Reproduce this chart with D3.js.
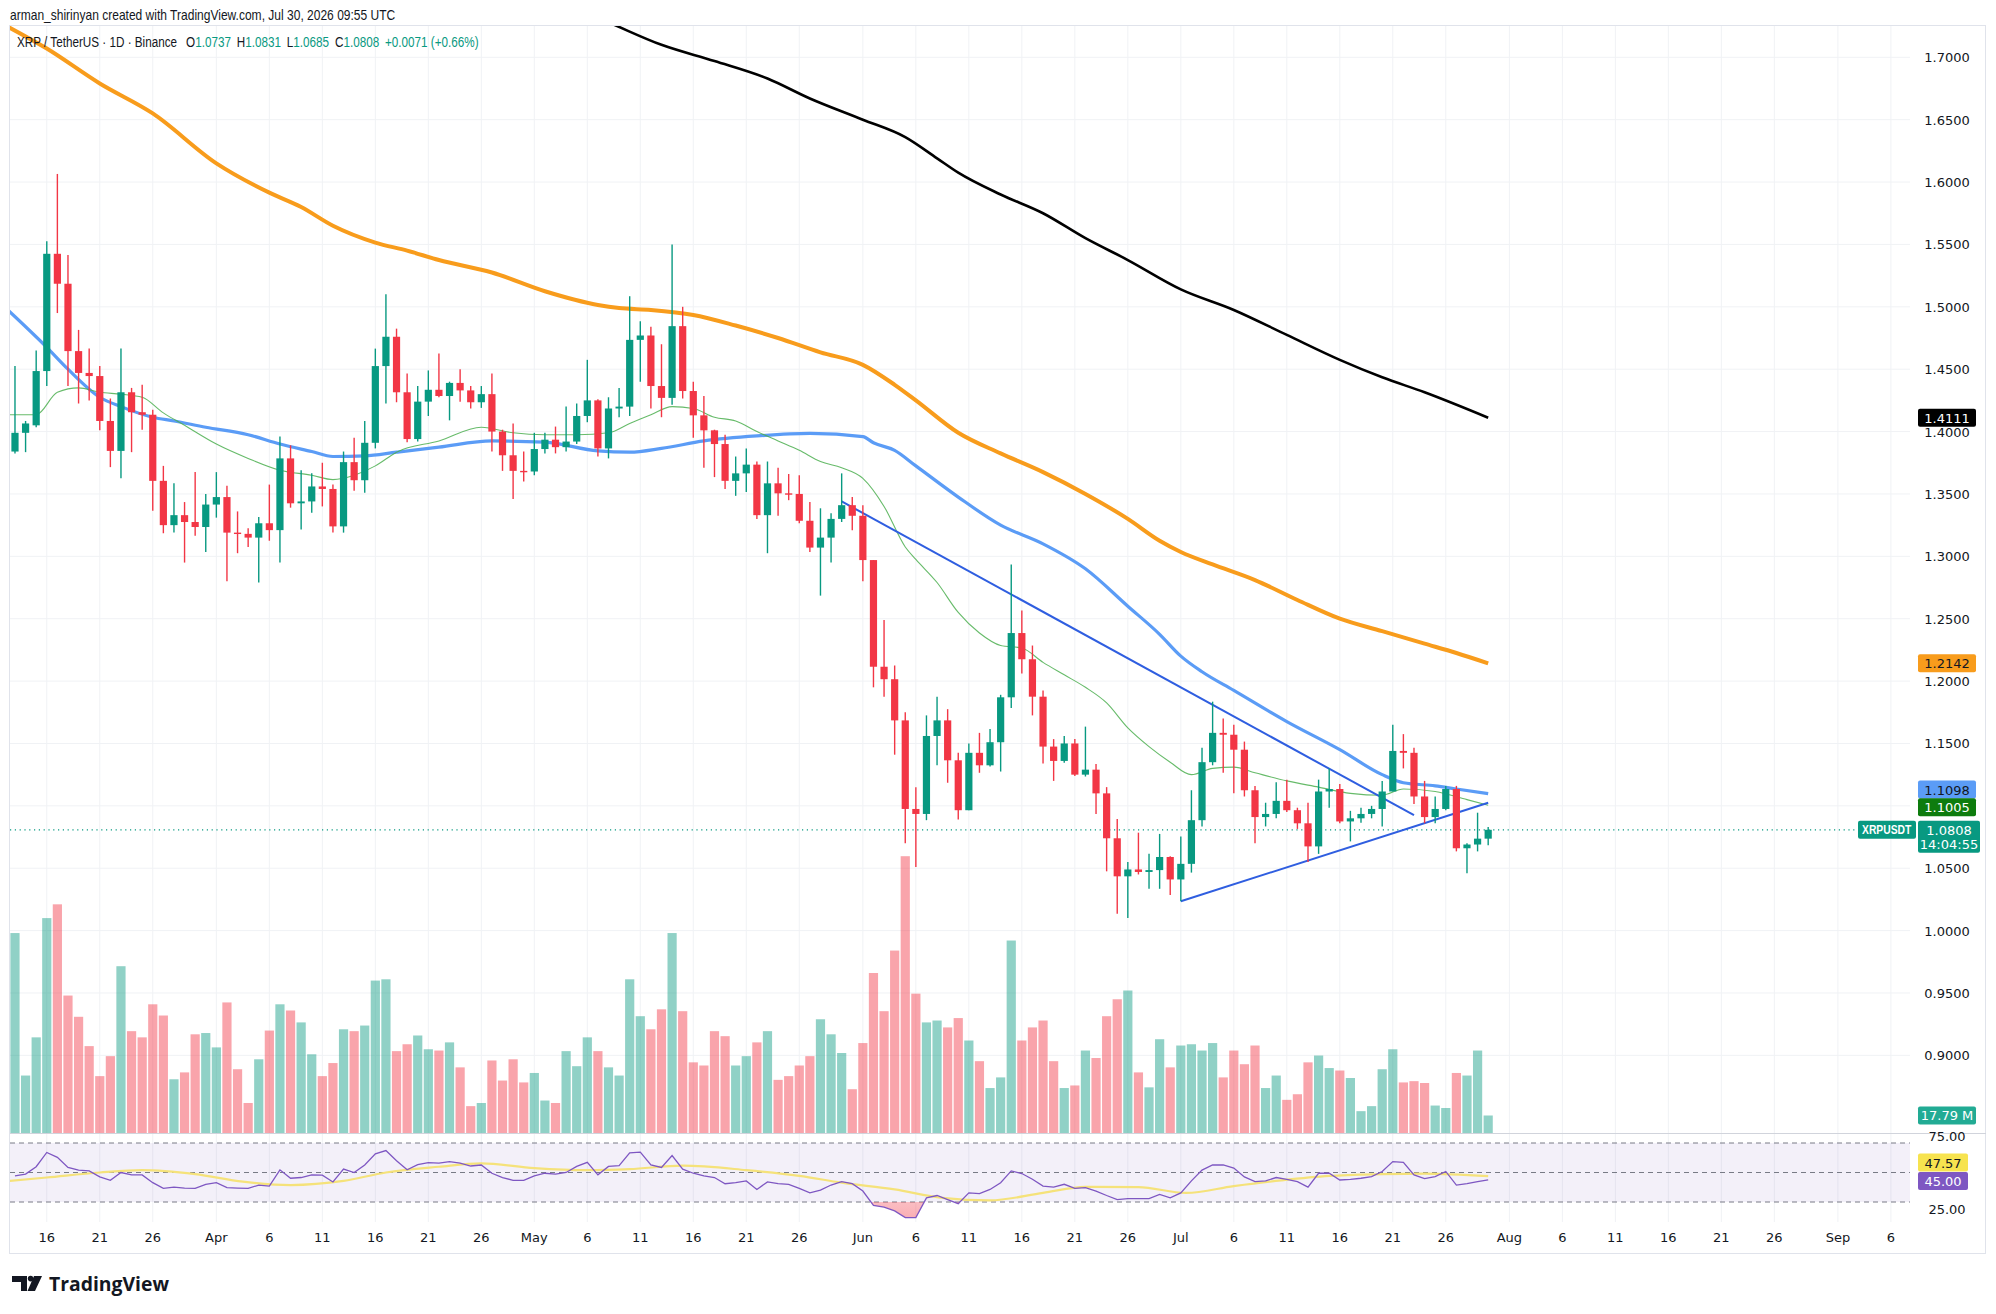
<!DOCTYPE html>
<html>
<head>
<meta charset="utf-8">
<script src="https://cdn.jsdelivr.net/npm/d3@7"></script>
<style>
  html, body { margin: 0; padding: 0; background: #fff; }
  svg { display: block; }
  .narrow { font-family: "Liberation Sans Narrow", "Liberation Sans", Arial, sans-serif; }
  .axis-text { font-family: "DejaVu Sans", Verdana, sans-serif; font-size: 13px; fill: #131722; }
</style>
</head>
<body>
<svg id="chart" width="1996" height="1314"></svg>
<script>
'use strict'

// daily candles, first one is 2026-03-13
const startDay = '2026-03-13'

const open = [
  1.384, 1.399, 1.405, 1.4485, 1.5425, 1.5185, 1.4645, 1.447, 1.4445, 1.4085,
  1.3845, 1.4315, 1.4155, 1.4135, 1.3605, 1.325, 1.333, 1.3275, 1.3235, 1.3415,
  1.3475, 1.319, 1.318, 1.315, 1.3265, 1.321, 1.3785, 1.3425, 1.344, 1.356,
  1.354, 1.324, 1.3755, 1.361, 1.391, 1.4525, 1.476, 1.4315, 1.394, 1.424,
  1.4335, 1.4285, 1.439, 1.433, 1.4235, 1.43, 1.40, 1.381, 1.3685, 1.368,
  1.386, 1.3935, 1.3875, 1.392, 1.4125, 1.425, 1.3865, 1.4185, 1.42, 1.4735,
  1.477, 1.4365, 1.427, 1.4845, 1.4325, 1.413, 1.401, 1.39, 1.3605, 1.3665,
  1.3735, 1.333, 1.3585, 1.3505, 1.35, 1.3285, 1.307, 1.315, 1.33, 1.341,
  1.3325, 1.297, 1.2115, 1.2015, 1.1685, 1.0975, 1.0935, 1.156, 1.1685, 1.1365,
  1.0965, 1.1425, 1.1325, 1.151, 1.187, 1.2385, 1.2175, 1.1875, 1.1475, 1.136,
  1.15, 1.125, 1.129, 1.11, 1.074, 1.0435, 1.049, 1.047, 1.0485, 1.059,
  1.041, 1.0535, 1.0885, 1.135, 1.1585, 1.157, 1.145, 1.1125, 1.091, 1.0935,
  1.104, 1.0965, 1.086, 1.0675, 1.1115, 1.1135, 1.0875, 1.09, 1.0935, 1.0975,
  1.1115, 1.144, 1.1425, 1.1075, 1.091, 1.0975, 1.1135, 1.066, 1.069, 1.0737
]
const high = [
  1.4525, 1.4085, 1.465, 1.5525, 1.6065, 1.5415, 1.4815, 1.4665, 1.4525, 1.4265,
  1.4665, 1.435, 1.4375, 1.4175, 1.3725, 1.3585, 1.3435, 1.3675, 1.35, 1.3675,
  1.3565, 1.336, 1.3225, 1.3315, 1.3575, 1.396, 1.389, 1.369, 1.3665, 1.375,
  1.3575, 1.384, 1.395, 1.4085, 1.4665, 1.51, 1.4825, 1.4465, 1.4365, 1.449,
  1.4625, 1.44, 1.45, 1.4365, 1.4365, 1.4465, 1.4015, 1.4065, 1.384, 1.399,
  1.399, 1.404, 1.42, 1.4225, 1.4575, 1.426, 1.4275, 1.435, 1.5085, 1.4885,
  1.484, 1.47, 1.55, 1.50, 1.44, 1.4285, 1.4015, 1.3975, 1.38, 1.3865,
  1.376, 1.376, 1.371, 1.366, 1.365, 1.3435, 1.3385, 1.3345, 1.3665, 1.3475,
  1.341, 1.297, 1.249, 1.2125, 1.175, 1.115, 1.1725, 1.1875, 1.1775, 1.1425,
  1.15, 1.1585, 1.1615, 1.189, 1.2935, 1.2565, 1.2285, 1.1925, 1.1535, 1.156,
  1.1535, 1.1635, 1.1335, 1.115, 1.0895, 1.055, 1.0785, 1.0615, 1.0775, 1.0595,
  1.0755, 1.1125, 1.1465, 1.1835, 1.17, 1.165, 1.1515, 1.116, 1.1025, 1.119,
  1.121, 1.0985, 1.1025, 1.121, 1.13, 1.1175, 1.096, 1.0985, 1.10, 1.12,
  1.165, 1.1575, 1.1465, 1.12, 1.1075, 1.116, 1.116, 1.07, 1.0945, 1.0831
]
const low = [
  1.3825, 1.3835, 1.4035, 1.4365, 1.495, 1.4365, 1.4225, 1.425, 1.401, 1.3715,
  1.3625, 1.3835, 1.4015, 1.3365, 1.3185, 1.319, 1.295, 1.3165, 1.3035, 1.331,
  1.28, 1.3025, 1.3075, 1.279, 1.3125, 1.295, 1.339, 1.3215, 1.335, 1.34,
  1.319, 1.319, 1.3525, 1.351, 1.3865, 1.4225, 1.4235, 1.3915, 1.392, 1.4125,
  1.4275, 1.409, 1.424, 1.4185, 1.419, 1.384, 1.3685, 1.346, 1.36, 1.365,
  1.3825, 1.3825, 1.384, 1.39, 1.4075, 1.38, 1.3785, 1.4115, 1.4125, 1.44,
  1.4185, 1.4115, 1.4215, 1.4265, 1.395, 1.371, 1.3635, 1.354, 1.3485, 1.3515,
  1.33, 1.3025, 1.3325, 1.345, 1.3265, 1.3035, 1.2685, 1.295, 1.3275, 1.321,
  1.28, 1.195, 1.1875, 1.141, 1.07, 1.051, 1.0885, 1.1325, 1.1185, 1.089,
  1.0965, 1.1265, 1.1315, 1.1275, 1.1785, 1.206, 1.1725, 1.134, 1.12, 1.1345,
  1.124, 1.1235, 1.0935, 1.0475, 1.0135, 1.01, 1.045, 1.0335, 1.0335, 1.0285,
  1.0235, 1.0465, 1.0835, 1.1325, 1.1265, 1.11, 1.1075, 1.07, 1.0835, 1.09,
  1.095, 1.0815, 1.055, 1.0615, 1.0985, 1.086, 1.0715, 1.0865, 1.09, 1.0835,
  1.1115, 1.13, 1.1015, 1.086, 1.086, 1.0965, 1.0635, 1.046, 1.0635, 1.0685
]
const close = [
  1.399, 1.4065, 1.4485, 1.5425, 1.5185, 1.4645, 1.447, 1.4445, 1.4085, 1.3845,
  1.4315, 1.4155, 1.4135, 1.3605, 1.325, 1.333, 1.3275, 1.3235, 1.3415, 1.3475,
  1.319, 1.318, 1.315, 1.3265, 1.321, 1.3785, 1.3425, 1.344, 1.356, 1.354,
  1.324, 1.3755, 1.361, 1.391, 1.4525, 1.476, 1.4315, 1.394, 1.424, 1.4335,
  1.4285, 1.439, 1.433, 1.4235, 1.43, 1.40, 1.381, 1.3685, 1.368, 1.386,
  1.3935, 1.3875, 1.392, 1.4125, 1.425, 1.3865, 1.4185, 1.42, 1.4735, 1.477,
  1.4365, 1.427, 1.4845, 1.4325, 1.413, 1.401, 1.39, 1.3605, 1.3665, 1.3735,
  1.333, 1.3585, 1.3505, 1.35, 1.3285, 1.307, 1.315, 1.33, 1.341, 1.3325,
  1.297, 1.2115, 1.2015, 1.1685, 1.0975, 1.0935, 1.156, 1.1685, 1.1365, 1.0965,
  1.1425, 1.1325, 1.151, 1.187, 1.2385, 1.2175, 1.1875, 1.1475, 1.136, 1.15,
  1.125, 1.129, 1.11, 1.074, 1.0435, 1.049, 1.047, 1.0485, 1.059, 1.041,
  1.0535, 1.0885, 1.135, 1.1585, 1.157, 1.145, 1.1125, 1.091, 1.0935, 1.104,
  1.0965, 1.086, 1.0675, 1.1115, 1.1135, 1.0875, 1.09, 1.0935, 1.0975, 1.1115,
  1.144, 1.1425, 1.1075, 1.091, 1.0975, 1.1135, 1.066, 1.069, 1.0737, 1.0808
]
// volume, millions of XRP
const volume = [
  203.2, 58.4, 97.2, 218.4, 232.4, 139.7, 118.1, 88.3, 57.8, 78.1,
  169.5, 103.5, 97.2, 130.8, 119.4, 54.6, 61.6, 100.3, 101.6, 87.0,
  132.7, 64.8, 30.5, 74.9, 104.1, 130.8, 124.5, 112.4, 80.0, 57.8,
  71.1, 105.4, 103.5, 109.2, 154.9, 156.2, 83.2, 90.2, 99.1, 85.1,
  83.8, 92.1, 66.7, 27.3, 30.5, 73.7, 53.3, 74.9, 51.4, 61.0,
  33.0, 30.5, 83.2, 67.9, 97.2, 83.2, 66.7, 58.4, 156.2, 118.7,
  105.4, 125.7, 203.2, 123.8, 71.8, 68.6, 103.5, 98.4, 68.6, 78.1,
  92.1, 103.5, 54.0, 57.8, 68.6, 78.1, 115.6, 100.3, 81.3, 44.5,
  91.4, 162.6, 123.8, 185.4, 281.3, 141.6, 112.4, 114.3, 107.3, 116.8,
  94.0, 73.0, 45.7, 56.5, 195.6, 94.0, 107.3, 114.3, 73.0, 45.7,
  48.3, 83.8, 76.2, 118.7, 135.9, 144.8, 61.6, 46.4, 95.3, 66.7,
  88.9, 90.2, 83.8, 91.4, 56.5, 83.8, 69.9, 88.9, 45.7, 58.4,
  33.7, 39.4, 71.8, 78.7, 66.0, 63.5, 55.9, 22.2, 27.3, 64.8,
  85.1, 51.4, 52.7, 50.8, 27.9, 25.4, 61.0, 58.4, 83.8, 17.79
]
const rsi = [
  47.7, 48.9, 53.9, 63.6, 60.3, 53.4, 51.6, 51.1, 47.0, 44.7,
  50.0, 48.4, 48.4, 43.1, 39.2, 40.1, 39.4, 39.2, 42.0, 43.1,
  39.7, 39.4, 39.2, 41.5, 40.8, 51.8, 46.1, 46.6, 48.4, 48.2,
  43.6, 52.3, 50.0, 55.1, 62.6, 64.9, 58.0, 51.8, 55.3, 56.7,
  56.4, 57.4, 56.4, 54.4, 55.1, 49.5, 46.6, 44.7, 44.7, 47.7,
  49.5, 48.9, 50.0, 54.1, 56.9, 48.4, 54.1, 54.6, 63.3, 63.8,
  55.1, 53.4, 61.5, 52.3, 49.5, 47.7, 46.6, 42.4, 43.1, 44.3,
  38.5, 43.6, 42.4, 42.0, 39.2, 36.2, 38.0, 41.5, 43.8, 42.4,
  37.4, 27.7, 26.6, 24.0, 19.4, 19.4, 32.8, 34.4, 31.6, 28.9,
  36.2, 35.7, 38.5, 43.1, 51.1, 49.3, 45.4, 40.8, 40.1, 42.0,
  39.2, 39.7, 37.4, 34.4, 31.6, 32.3, 32.3, 32.3, 35.1, 32.8,
  36.2, 44.3, 51.6, 55.1, 55.1, 53.0, 47.0, 43.8, 44.3, 46.6,
  45.4, 43.8, 40.1, 49.5, 49.5, 44.9, 45.4, 46.1, 47.2, 50.7,
  57.4, 56.9, 48.4, 45.9, 47.2, 50.7, 41.5, 42.4, 43.8, 45.0
]

// moving averages: [day index, value]
const ma200 = [
  [52, 1.742], [56, 1.728], [61, 1.710], [66, 1.697], [71, 1.683], [75, 1.667],
  [80, 1.650], [84, 1.636], [87, 1.619], [89, 1.6075], [93, 1.590], [97, 1.575],
  [101, 1.555], [105, 1.5375], [110, 1.514], [115, 1.4975], [120, 1.4775],
  [125, 1.4575], [129, 1.4435], [133, 1.4315], [139, 1.4111]
]
const ma100 = [
  [-1, 1.726], [3, 1.707], [8, 1.679], [13, 1.655], [19, 1.615], [24, 1.5915],
  [27, 1.580], [30, 1.565], [34, 1.5515], [37, 1.545], [40, 1.5375], [45, 1.5275],
  [50, 1.5125], [55, 1.5015], [57, 1.499], [60, 1.4975], [64, 1.4935], [68, 1.485],
  [72, 1.475], [76, 1.4635], [80, 1.4535], [83, 1.4375], [85, 1.425], [89, 1.399],
  [93, 1.3825], [97, 1.3675], [101, 1.350], [105, 1.330], [108, 1.3125],
  [110, 1.3035], [113, 1.2935], [117, 1.281], [121, 1.265], [125, 1.250],
  [129, 1.240], [133, 1.230], [136, 1.2225], [139, 1.2142]
]
const ma50 = [
  [-1, 1.500], [3, 1.4675], [5, 1.450], [8, 1.4275], [10, 1.420], [13, 1.4115],
  [15, 1.4085], [18, 1.4035], [22, 1.3975], [25, 1.390], [28, 1.384], [30, 1.380],
  [33, 1.3805], [36, 1.3835], [40, 1.3875], [45, 1.3925], [50, 1.3915], [55, 1.3845],
  [58, 1.3835], [61, 1.3865], [65, 1.3925], [70, 1.3965], [75, 1.3985], [80, 1.396],
  [81, 1.391], [83, 1.385], [85, 1.3725], [89, 1.3475], [93, 1.325], [97, 1.310],
  [101, 1.290], [105, 1.260], [108, 1.2375], [110, 1.220], [112, 1.2075],
  [115, 1.1925], [120, 1.1675], [125, 1.145], [129, 1.125], [131, 1.1185],
  [134, 1.116], [136, 1.1135], [139, 1.1098]
]
const ma20 = [
  [-1, 1.4135], [2, 1.4135], [4, 1.4315], [6, 1.435], [8, 1.4315], [10, 1.430],
  [12, 1.4275], [14, 1.415], [16, 1.405], [19, 1.390], [22, 1.3785], [25, 1.369],
  [28, 1.365], [30, 1.3615], [32, 1.365], [34, 1.3725], [36, 1.3835], [40, 1.3925],
  [44, 1.4035], [47, 1.399], [50, 1.3975], [53, 1.3975], [56, 1.399], [58, 1.4065],
  [60, 1.4135], [62, 1.420], [64, 1.4185], [66, 1.4115], [68, 1.4085], [70, 1.400],
  [72, 1.3925], [74, 1.385], [76, 1.376], [78, 1.371], [80, 1.3625], [82, 1.340],
  [84, 1.3075], [85, 1.2975], [87, 1.279], [89, 1.255], [91, 1.2385], [93, 1.2285],
  [95, 1.2265], [97, 1.215], [99, 1.205], [101, 1.195], [103, 1.1825], [105, 1.1625],
  [107, 1.1475], [109, 1.135], [111, 1.125], [113, 1.130], [115, 1.131],
  [117, 1.1265], [120, 1.120], [123, 1.115], [126, 1.110], [129, 1.1085],
  [131, 1.1135], [134, 1.1115], [137, 1.105], [139, 1.1005]
]
const rsiMa = [
  [-1, 44.0], [3, 46.6], [8, 50.0], [12, 51.6], [17, 48.9], [21.5, 43.8], [26, 41.5],
  [31, 44.3], [35, 50.0], [40, 53.9], [44, 56.2], [49, 53.0], [54, 51.6], [58, 52.3],
  [63, 54.6], [69, 51.6], [74, 47.7], [78, 43.1], [83, 38.5], [87.5, 32.8], [92, 31.1],
  [97, 36.2], [101, 40.3], [106, 40.1], [110.5, 36.2], [115, 40.8], [119.5, 44.7],
  [124, 47.7], [129, 48.9], [133, 49.3], [139, 47.57]
]

// drawn trend lines (triangle)
const trendDown = [[78, 1.344], [132, 1.0925]]
const trendUp = [[110, 1.0235], [139, 1.1025]]

const priceTicks = [0.90, 0.95, 1.00, 1.05, 1.10, 1.15, 1.20, 1.25, 1.30, 1.35, 1.40, 1.45, 1.50, 1.55, 1.60, 1.65, 1.70]
const rsiTicks = [75, 25]
const rsiBands = [70, 50, 30]
const xTickDates = [
  '2026-03-16', '2026-03-21', '2026-03-26', '2026-04-01', '2026-04-06', '2026-04-11', '2026-04-16',
  '2026-04-21', '2026-04-26', '2026-05-01', '2026-05-06', '2026-05-11', '2026-05-16', '2026-05-21',
  '2026-05-26', '2026-06-01', '2026-06-06', '2026-06-11', '2026-06-16', '2026-06-21', '2026-06-26',
  '2026-07-01', '2026-07-06', '2026-07-11', '2026-07-16', '2026-07-21', '2026-07-26', '2026-08-01',
  '2026-08-06', '2026-08-11', '2026-08-16', '2026-08-21', '2026-08-26', '2026-09-01', '2026-09-06'
]
const xTickLabels = [
  '16', '21', '26', 'Apr', '6', '11', '16', '21', '26', 'May', '6', '11', '16', '21', '26',
  'Jun', '6', '11', '16', '21', '26', 'Jul', '6', '11', '16', '21', '26', 'Aug',
  '6', '11', '16', '21', '26', 'Sep', '6'
]

const UP = '#089981'
const DOWN = '#f23645'
const GRID = '#f0f2f5'

// layout
const L = 10, R = 1910, T = 26, B = 1133
const rsiTop = 1133, rsiBottom = 1222, frameBottom = 1254, frameRight = 1986

const parseDay = d3.utcParse('%Y-%m-%d')
const day0 = parseDay(startDay)
const dayAt = (i) => new Date(day0.getTime() + i * 864e5)
const dates = open.map((d, i) => dayAt(i))
const n = close.length

const x = d3.scaleUtc().domain([dayAt(-0.47), dayAt(178.8)]).range([L, R])
const y = d3.scaleLinear().domain([1.0, 1.7]).range([930.6, 57.3])
const yVol = d3.scaleLinear().domain([0, 300]).range([B, B - 295.2])
const yRsi = d3.scaleLinear().domain([30, 70]).range([1202, 1143])

const svg = d3.select('#chart')
const defs = svg.append('defs')
defs.append('clipPath').attr('id', 'clip-price')
  .append('rect').attr('x', L).attr('y', T).attr('width', R - L).attr('height', B - T)
defs.append('clipPath').attr('id', 'clip-rsi')
  .append('rect').attr('x', L).attr('y', rsiTop).attr('width', R - L).attr('height', rsiBottom - rsiTop)
defs.append('clipPath').attr('id', 'clip-oversold')
  .append('rect').attr('x', L).attr('y', yRsi(30)).attr('width', R - L).attr('height', rsiBottom - yRsi(30))
const grad = defs.append('linearGradient').attr('id', 'os-grad')
  .attr('x1', 0).attr('y1', 0).attr('x2', 0).attr('y2', 1)
grad.append('stop').attr('offset', '0%').attr('stop-color', 'rgba(242,54,69,0.08)')
grad.append('stop').attr('offset', '100%').attr('stop-color', 'rgba(242,54,69,0.40)')

// squeeze a text block horizontally to the width it has in the screenshot
const fitWidth = (g, width) => {
  const w = g.node().getBBox().width
  const tx = g.attr('data-x'), ty = g.attr('data-y')
  g.attr('transform', `translate(${tx},${ty}) scale(${width / w},1)`)
}

// header
const header = svg.append('g').attr('data-x', 10).attr('data-y', 20)
header.append('text').attr('class', 'narrow')
  .attr('font-size', 15).attr('fill', '#131722')
  .text('arman_shirinyan created with TradingView.com, Jul 30, 2026 09:55 UTC')
fitWidth(header, 386)

// grid
const grid = svg.append('g')
grid.selectAll('.hgrid').data(priceTicks).enter().append('line')
  .attr('x1', L).attr('x2', R)
  .attr('y1', (d) => y(d)).attr('y2', (d) => y(d))
  .attr('stroke', GRID).attr('stroke-width', 1)
grid.selectAll('.vgrid').data(xTickDates).enter().append('line')
  .attr('x1', (d) => x(parseDay(d))).attr('x2', (d) => x(parseDay(d)))
  .attr('y1', T).attr('y2', rsiBottom)
  .attr('stroke', GRID).attr('stroke-width', 1)

// frame
svg.append('rect')
  .attr('x', L - 0.5).attr('y', T - 0.5)
  .attr('width', frameRight - L).attr('height', frameBottom - T)
  .attr('fill', 'none').attr('stroke', '#e0e3eb')
svg.append('line')
  .attr('x1', L).attr('x2', frameRight).attr('y1', B + 0.5).attr('y2', B + 0.5)
  .attr('stroke', '#d1d4dc')

// volume
const price = svg.append('g').attr('clip-path', 'url(#clip-price)')
const isUp = (i) => close[i] >= open[i]
price.append('g').selectAll('rect').data(volume).enter().append('rect')
  .attr('x', (d, i) => x(dates[i]) - 4.6)
  .attr('width', 9.2)
  .attr('y', (d) => yVol(d))
  .attr('height', (d) => B - yVol(d))
  .attr('fill', (d, i) => isUp(i) ? 'rgba(8,153,129,0.45)' : 'rgba(242,54,69,0.45)')

// current price line
price.append('line')
  .attr('x1', L).attr('x2', 1858)
  .attr('y1', y(close[n - 1])).attr('y2', y(close[n - 1]))
  .attr('stroke', UP).attr('stroke-width', 1.2).attr('stroke-dasharray', '1.2,3.6')

// moving averages
const maLine = d3.line()
  .x((d) => x(dayAt(d[0])))
  .y((d) => y(d[1]))
  .curve(d3.curveMonotoneX)

price.append('path').datum(ma200).attr('d', maLine)
  .attr('fill', 'none').attr('stroke', '#000000').attr('stroke-width', 2.6)
price.append('path').datum(ma100).attr('d', maLine)
  .attr('fill', 'none').attr('stroke', '#f89c1c').attr('stroke-width', 4)
price.append('path').datum(ma50).attr('d', maLine)
  .attr('fill', 'none').attr('stroke', '#5b9cf6').attr('stroke-width', 3.2)
price.append('path').datum(ma20).attr('d', maLine)
  .attr('fill', 'none').attr('stroke', '#4caf50').attr('stroke-opacity', 0.85).attr('stroke-width', 1.1)

// trend lines
const straight = d3.line().x((d) => x(dayAt(d[0]))).y((d) => y(d[1]))
;[trendDown, trendUp].forEach((t) => {
  price.append('path').datum(t).attr('d', straight)
    .attr('fill', 'none').attr('stroke', '#2f5ee0').attr('stroke-width', 2)
})

// candles
const candle = price.append('g').selectAll('g').data(dates).enter().append('g')
candle.append('line')
  .attr('x1', (d) => x(d)).attr('x2', (d) => x(d))
  .attr('y1', (d, i) => y(high[i])).attr('y2', (d, i) => y(low[i]))
  .attr('stroke', (d, i) => isUp(i) ? UP : DOWN).attr('stroke-width', 1.4)
candle.append('rect')
  .attr('x', (d) => x(d) - 3.6)
  .attr('width', 7.2)
  .attr('y', (d, i) => y(Math.max(open[i], close[i])))
  .attr('height', (d, i) => Math.max(1.4, Math.abs(y(open[i]) - y(close[i]))))
  .attr('fill', (d, i) => isUp(i) ? UP : DOWN)

// legend
const legendG = svg.append('g').attr('data-x', 17).attr('data-y', 47)
const legend = legendG.append('text').attr('class', 'narrow')
  .attr('font-size', 15).attr('fill', '#131722')
legend.append('tspan').text('XRP / TetherUS · 1D · Binance')
const ohlc = [['O', open], ['H', high], ['L', low], ['C', close]]
ohlc.forEach((p, k) => {
  legend.append('tspan').text((k === 0 ? '\u2002 ' : '\u2002') + p[0])
  legend.append('tspan').attr('fill', UP).text(p[1][n - 1].toFixed(4))
})
const chg = close[n - 1] - close[n - 2]
legend.append('tspan').attr('fill', UP)
  .text(`\u2002+${chg.toFixed(4)} (+${(chg / close[n - 2] * 100).toFixed(2)}%)`)
fitWidth(legendG, 462)

// rsi pane
const rsiG = svg.append('g').attr('clip-path', 'url(#clip-rsi)')
rsiG.append('rect')
  .attr('x', L).attr('width', R - L)
  .attr('y', yRsi(70)).attr('height', yRsi(30) - yRsi(70))
  .attr('fill', 'rgba(126,87,194,0.09)')
rsiG.selectAll('.band').data(rsiBands).enter().append('line')
  .attr('x1', L).attr('x2', R)
  .attr('y1', (d) => yRsi(d)).attr('y2', (d) => yRsi(d))
  .attr('stroke', '#787b86').attr('stroke-width', 1).attr('stroke-dasharray', '5,4')
rsiG.append('path').datum(rsi)
  .attr('clip-path', 'url(#clip-oversold)')
  .attr('d', d3.area().x((d, i) => x(dates[i])).y0(yRsi(30)).y1((d) => yRsi(d)))
  .attr('fill', 'url(#os-grad)')
rsiG.append('path').datum(rsiMa)
  .attr('d', d3.line().x((d) => x(dayAt(d[0]))).y((d) => yRsi(d[1])).curve(d3.curveMonotoneX))
  .attr('fill', 'none').attr('stroke', '#f5e27a').attr('stroke-width', 2.2)
rsiG.append('path').datum(rsi)
  .attr('d', d3.line().x((d, i) => x(dates[i])).y((d) => yRsi(d)))
  .attr('fill', 'none').attr('stroke', '#7e57c2').attr('stroke-width', 1.3)

// price axis
const axisX = 1947
svg.append('g').selectAll('text').data(priceTicks).enter().append('text')
  .attr('class', 'axis-text')
  .attr('x', axisX).attr('y', (d) => y(d) + 5)
  .attr('text-anchor', 'middle')
  .text((d) => d.toFixed(4))
svg.append('g').selectAll('text').data(rsiTicks).enter().append('text')
  .attr('class', 'axis-text')
  .attr('x', axisX).attr('y', (d) => yRsi(d) + 5)
  .attr('text-anchor', 'middle')
  .text((d) => d.toFixed(2))

// time axis
svg.append('g').selectAll('text').data(xTickDates).enter().append('text')
  .attr('class', 'axis-text')
  .attr('x', (d) => x(parseDay(d)))
  .attr('y', 1242)
  .attr('text-anchor', 'middle')
  .text((d, i) => xTickLabels[i])

// value tags on the scale
const tag = (cy, bg, fg, lines, w) => {
  const h = lines.length > 1 ? 32 : 18
  const g = svg.append('g')
  g.append('rect').attr('x', 1918).attr('y', cy - 9).attr('width', w || 58).attr('height', h)
    .attr('rx', 2).attr('fill', bg)
  lines.forEach((t, k) => {
    g.append('text').attr('class', 'axis-text')
      .attr('x', 1918 + (w || 58) / 2).attr('y', cy + 5 + k * 14)
      .attr('text-anchor', 'middle').style('fill', fg).text(t)
  })
}
tag(y(ma200[ma200.length - 1][1]), '#000000', '#ffffff', [ma200[ma200.length - 1][1].toFixed(4)])
tag(y(ma100[ma100.length - 1][1]), '#f89c1c', '#131722', [ma100[ma100.length - 1][1].toFixed(4)])
tag(y(ma50[ma50.length - 1][1]) - 4, '#5b9cf6', '#131722', [ma50[ma50.length - 1][1].toFixed(4)])
tag(y(ma20[ma20.length - 1][1]) + 2, '#0e7c0e', '#ffffff', [ma20[ma20.length - 1][1].toFixed(4)])
tag(y(close[n - 1]), UP, '#ffffff', [close[n - 1].toFixed(4), '14:04:55'], 62)
tag(yVol(volume[n - 1]), '#22ab94', '#ffffff', [`${volume[n - 1].toFixed(2)} M`])
tag(yRsi(50) - 10, '#f7e34f', '#131722', [rsiMa[rsiMa.length - 1][1].toFixed(2)], 50)
tag(yRsi(rsi[n - 1]) + 1, '#7e57c2', '#ffffff', [rsi[n - 1].toFixed(2)], 50)

// symbol tag at the end of the price line
svg.append('rect').attr('x', 1858).attr('y', y(close[n - 1]) - 9)
  .attr('width', 58).attr('height', 18).attr('rx', 2).attr('fill', UP)
const sym = svg.append('g').attr('data-x', 1862).attr('data-y', y(close[n - 1]) + 4.5)
sym.append('text')
  .attr('font-family', '"Liberation Sans", Arial, sans-serif')
  .attr('font-size', 12).attr('font-weight', 700).attr('fill', '#ffffff')
  .text('XRPUSDT')
fitWidth(sym, 50)

// TradingView logo
const logo = svg.append('g').attr('fill', '#131722')
logo.append('path').attr('d', 'M12,1276 H27 V1291 H21 V1282 H12 Z')
logo.append('circle').attr('cx', 30.6).attr('cy', 1278.6).attr('r', 2.8)
logo.append('path').attr('d', 'M34,1276 H42 L35,1291 H27.5 Z')
const brand = svg.append('g').attr('data-x', 49).attr('data-y', 1291)
brand.append('text')
  .attr('font-family', '"Open Sans", "Liberation Sans", sans-serif')
  .attr('font-weight', 700).attr('font-size', 20).attr('fill', '#131722')
  .text('TradingView')
fitWidth(brand, 120)
</script>
</body>
</html>
